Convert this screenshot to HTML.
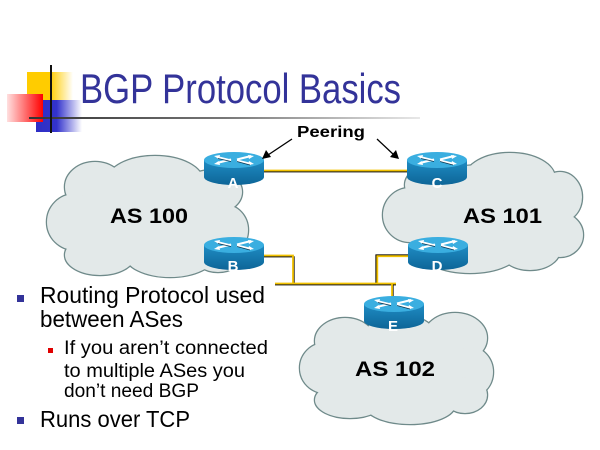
<!DOCTYPE html>
<html>
<head>
<meta charset="utf-8">
<style>
html,body{margin:0;padding:0;background:#fff;}
svg{display:block;}
text{font-family:"Liberation Sans",sans-serif;}
</style>
</head>
<body>
<svg width="600" height="450" viewBox="0 0 600 450" xmlns="http://www.w3.org/2000/svg">
<defs>
  <linearGradient id="yel" x1="0" x2="1" y1="0" y2="0">
    <stop offset="0" stop-color="#ffcc00"/>
    <stop offset="0.5" stop-color="#ffcc00"/>
    <stop offset="1" stop-color="#ffffff"/>
  </linearGradient>
  <linearGradient id="blu" x1="0" x2="1" y1="0" y2="0">
    <stop offset="0" stop-color="#2e2ec4"/>
    <stop offset="0.45" stop-color="#3333cc"/>
    <stop offset="1" stop-color="#ffffff"/>
  </linearGradient>
  <linearGradient id="red" x1="0" x2="1" y1="0" y2="0">
    <stop offset="0" stop-color="#ffe0e0"/>
    <stop offset="1" stop-color="#ff0000"/>
  </linearGradient>
  <linearGradient id="rule" x1="0" x2="1" y1="0" y2="0">
    <stop offset="0" stop-color="#333333"/>
    <stop offset="0.5" stop-color="#777777"/>
    <stop offset="1" stop-color="#e8e8e8"/>
  </linearGradient>
  <linearGradient id="side" x1="0" x2="0" y1="0" y2="1">
    <stop offset="0" stop-color="#1f8cc4"/>
    <stop offset="1" stop-color="#0d6597"/>
  </linearGradient>
  <g id="router">
    <path d="M0,8 L0,25 A30,8 0 0 0 60,25 L60,8 Z" fill="url(#side)"/>
    <ellipse cx="30" cy="8" rx="30" ry="8" fill="#3aaee0"/>
    <g stroke="#ffffff" stroke-width="2" fill="none">
      <line x1="13" y1="5" x2="27" y2="8.5"/>
      <line x1="13" y1="11" x2="27" y2="7.5"/>
      <line x1="33" y1="7.5" x2="47" y2="4"/>
      <line x1="33" y1="8.5" x2="47" y2="12"/>
    </g>
    <g fill="#ffffff">
      <polygon points="10,4 16,3 15,7"/>
      <polygon points="10,12 15,9 16,13"/>
      <polygon points="50,4 44,3 45,7"/>
      <polygon points="50,12 45,9 44,13"/>
    </g>
    <g stroke="#0a3550" stroke-width="0.8" fill="none">
      <line x1="14" y1="6.5" x2="27" y2="9.5"/>
      <line x1="33" y1="9.5" x2="46" y2="13"/>
    </g>
  </g>
</defs>

<!-- Logo -->
<rect x="27" y="72" width="46" height="29" fill="url(#yel)"/>
<rect x="36" y="100" width="46" height="32" fill="url(#blu)"/>
<rect x="7" y="94" width="36" height="28" fill="url(#red)"/>
<rect x="29" y="117" width="391" height="2" fill="url(#rule)"/>
<rect x="50" y="65" width="2" height="68" fill="#111"/>

<!-- Title -->
<text x="80" y="103" font-size="42" fill="#333399" textLength="321" lengthAdjust="spacingAndGlyphs">BGP Protocol Basics</text>

<!-- Clouds: outline layer then fill layer -->
<g fill="#6f8a8a" stroke="#6f8a8a" stroke-width="2.5">
  <ellipse cx="150" cy="215" rx="85" ry="50"/>
  <ellipse cx="95" cy="187" rx="30" ry="25"/>
  <ellipse cx="155" cy="181" rx="48" ry="25"/>
  <ellipse cx="212" cy="192" rx="30" ry="22"/>
  <ellipse cx="75" cy="222" rx="28" ry="28"/>
  <ellipse cx="225" cy="230" rx="23" ry="25"/>
  <ellipse cx="100" cy="255" rx="35" ry="20"/>
  <ellipse cx="170" cy="255" rx="45" ry="22"/>
  <ellipse cx="218" cy="254" rx="25" ry="18"/>
  <ellipse cx="483" cy="213" rx="85" ry="48"/>
  <ellipse cx="510" cy="178" rx="45" ry="25"/>
  <ellipse cx="440" cy="185" rx="35" ry="22"/>
  <ellipse cx="560" cy="197" rx="22" ry="25"/>
  <ellipse cx="410" cy="215" rx="27" ry="27"/>
  <ellipse cx="560" cy="235" rx="23" ry="22"/>
  <ellipse cx="470" cy="250" rx="50" ry="23"/>
  <ellipse cx="530" cy="250" rx="30" ry="20"/>
  <ellipse cx="397" cy="370" rx="80" ry="45"/>
  <ellipse cx="345" cy="341" rx="30" ry="23"/>
  <ellipse cx="455" cy="338" rx="32" ry="25"/>
  <ellipse cx="400" cy="335" rx="35" ry="20"/>
  <ellipse cx="325" cy="368" rx="25" ry="25"/>
  <ellipse cx="470" cy="372" rx="23" ry="25"/>
  <ellipse cx="350" cy="400" rx="35" ry="18"/>
  <ellipse cx="410" cy="405" rx="45" ry="19"/>
  <ellipse cx="465" cy="395" rx="22" ry="18"/>
</g>
<g fill="#e3e9e9">
  <ellipse cx="150" cy="215" rx="85" ry="50"/>
  <ellipse cx="95" cy="187" rx="30" ry="25"/>
  <ellipse cx="155" cy="181" rx="48" ry="25"/>
  <ellipse cx="212" cy="192" rx="30" ry="22"/>
  <ellipse cx="75" cy="222" rx="28" ry="28"/>
  <ellipse cx="225" cy="230" rx="23" ry="25"/>
  <ellipse cx="100" cy="255" rx="35" ry="20"/>
  <ellipse cx="170" cy="255" rx="45" ry="22"/>
  <ellipse cx="218" cy="254" rx="25" ry="18"/>
  <ellipse cx="483" cy="213" rx="85" ry="48"/>
  <ellipse cx="510" cy="178" rx="45" ry="25"/>
  <ellipse cx="440" cy="185" rx="35" ry="22"/>
  <ellipse cx="560" cy="197" rx="22" ry="25"/>
  <ellipse cx="410" cy="215" rx="27" ry="27"/>
  <ellipse cx="560" cy="235" rx="23" ry="22"/>
  <ellipse cx="470" cy="250" rx="50" ry="23"/>
  <ellipse cx="530" cy="250" rx="30" ry="20"/>
  <ellipse cx="397" cy="370" rx="80" ry="45"/>
  <ellipse cx="345" cy="341" rx="30" ry="23"/>
  <ellipse cx="455" cy="338" rx="32" ry="25"/>
  <ellipse cx="400" cy="335" rx="35" ry="20"/>
  <ellipse cx="325" cy="368" rx="25" ry="25"/>
  <ellipse cx="470" cy="372" rx="23" ry="25"/>
  <ellipse cx="350" cy="400" rx="35" ry="18"/>
  <ellipse cx="410" cy="405" rx="45" ry="19"/>
  <ellipse cx="465" cy="395" rx="22" ry="18"/>
</g>

<!-- Cloud labels -->
<text x="110" y="223" font-size="21" font-weight="bold" fill="#000" textLength="78" lengthAdjust="spacingAndGlyphs">AS 100</text>
<text x="463" y="223" font-size="21" font-weight="bold" fill="#000" textLength="79" lengthAdjust="spacingAndGlyphs">AS 101</text>
<text x="355" y="376" font-size="21" font-weight="bold" fill="#000" textLength="80" lengthAdjust="spacingAndGlyphs">AS 102</text>

<!-- Connectors: black shadow then yellow -->
<g stroke="#000" stroke-width="1.2" fill="none">
  <line x1="262" y1="171.8" x2="409" y2="171.8"/>
  <polyline points="262,256.8 294,256.8 294,284"/>
  <line x1="275" y1="284.8" x2="396" y2="284.8"/>
  <polyline points="376,284 376,255 409,255"/>
  <line x1="393" y1="284" x2="393" y2="298"/>
</g>
<g stroke="#f2c200" stroke-width="1.8" fill="none">
  <line x1="262" y1="170.5" x2="409" y2="170.5"/>
  <polyline points="262,255.5 293,255.5 293,283"/>
  <line x1="275" y1="283.5" x2="396" y2="283.5"/>
  <polyline points="377.3,283 377.3,256.2 409,256.2"/>
  <line x1="392" y1="284" x2="392" y2="298"/>
</g>

<!-- Routers -->
<use href="#router" x="204" y="152"/>
<use href="#router" x="407" y="152"/>
<use href="#router" x="204" y="237"/>
<use href="#router" x="408" y="237"/>
<use href="#router" x="364" y="296"/>
<g font-size="15" font-weight="bold" fill="#ffffff" text-anchor="middle">
  <text x="233" y="188">A</text>
  <text x="437" y="188">C</text>
  <text x="233" y="271">B</text>
  <text x="437" y="271">D</text>
  <text x="393" y="331">E</text>
</g>

<!-- Peering -->
<text x="297" y="137" font-size="16" font-weight="bold" fill="#000" textLength="68" lengthAdjust="spacingAndGlyphs">Peering</text>
<g stroke="#000" stroke-width="1.3">
  <line x1="292" y1="139" x2="268" y2="155"/>
  <line x1="377" y1="139" x2="394" y2="155"/>
</g>
<polygon points="262,159 266,150 271,157" fill="#000"/>
<polygon points="399,159 390,157 396,150" fill="#000"/>

<!-- Bullets -->
<rect x="17" y="295" width="7" height="7" fill="#333399"/>
<text x="40" y="303" font-size="23" fill="#000" textLength="225" lengthAdjust="spacingAndGlyphs">Routing Protocol used</text>
<text x="40" y="327" font-size="23" fill="#000" textLength="143" lengthAdjust="spacingAndGlyphs">between ASes</text>
<rect x="48" y="348" width="5" height="5" fill="#e00000"/>
<text x="64" y="354" font-size="19" fill="#000" textLength="204" lengthAdjust="spacingAndGlyphs">If you aren’t connected</text>
<text x="64" y="377" font-size="19" fill="#000" textLength="181" lengthAdjust="spacingAndGlyphs">to multiple ASes you</text>
<text x="64" y="397" font-size="19" fill="#000" textLength="135" lengthAdjust="spacingAndGlyphs">don’t need BGP</text>
<rect x="17" y="417" width="7" height="7" fill="#333399"/>
<text x="40" y="427" font-size="23" fill="#000" textLength="150" lengthAdjust="spacingAndGlyphs">Runs over TCP</text>
</svg>
</body>
</html>
